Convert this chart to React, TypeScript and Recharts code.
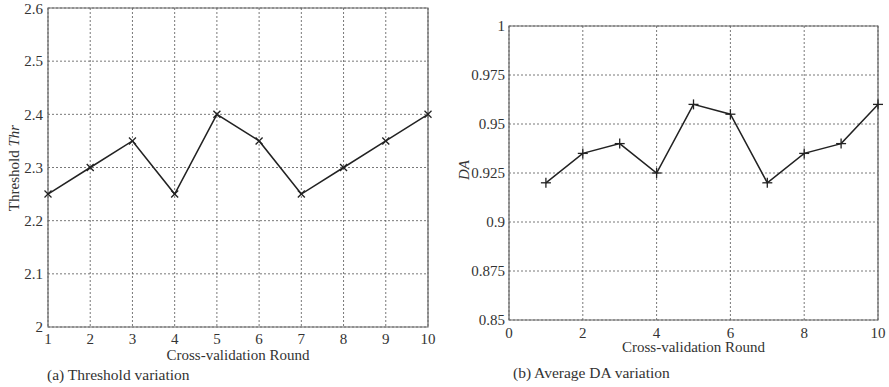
import { LineChart, Line, XAxis, YAxis, CartesianGrid, ReferenceArea, Label } from 'recharts'

// cross-validation rounds 1..10
const rounds = [1, 2, 3, 4, 5, 6, 7, 8, 9, 10]
const thresholdValues = [2.25, 2.3, 2.35, 2.25, 2.4, 2.35, 2.25, 2.3, 2.35, 2.4]
const daValues = [0.92, 0.935, 0.94, 0.925, 0.96, 0.955, 0.92, 0.935, 0.94, 0.96]

const thrXTicks = [1, 2, 3, 4, 5, 6, 7, 8, 9, 10]
const thrYTicks = [2, 2.1, 2.2, 2.3, 2.4, 2.5, 2.6]
const daXTicks = [0, 2, 4, 6, 8, 10]
const daYTicks = [0.85, 0.875, 0.9, 0.925, 0.95, 0.975, 1]

const thrData = rounds.map((r, i) => ({ round: r, thr: thresholdValues[i] }))
const daData = rounds.map((r, i) => ({ round: r, da: daValues[i] }))

const FONT = '"Liberation Serif", "DejaVu Serif", serif'
const TEXT = '#333'
const LINE = '#222'
const tickStyle = { fill: TEXT, fontSize: 15, fontFamily: FONT }

const XMark = (props: any) => {
  const { cx, cy } = props
  const s = 3.5
  return (
    <g key={props.key ?? `${cx}-${cy}`}>
      <line x1={cx - s} y1={cy - s} x2={cx + s} y2={cy + s} stroke={LINE} strokeWidth={1.3} />
      <line x1={cx - s} y1={cy + s} x2={cx + s} y2={cy - s} stroke={LINE} strokeWidth={1.3} />
    </g>
  )
}

const PlusMark = (props: any) => {
  const { cx, cy } = props
  const s = 5
  return (
    <g key={props.key ?? `${cx}-${cy}`}>
      <line x1={cx - s} y1={cy} x2={cx + s} y2={cy} stroke={LINE} strokeWidth={1.3} />
      <line x1={cx} y1={cy - s} x2={cx} y2={cy + s} stroke={LINE} strokeWidth={1.3} />
    </g>
  )
}

const xTitle = (dy: number) => ({ viewBox }: any) => (
  <text
    x={viewBox.x + viewBox.width / 2}
    y={viewBox.y + dy}
    textAnchor="middle"
    fill={TEXT}
    fontSize={15}
    fontFamily={FONT}
  >
    Cross-validation Round
  </text>
)

export default function App() {
  return (
    <div style={{ position: 'absolute', left: 0, top: 0, width: 889, height: 387, background: '#fff' }}>
      <div style={{ position: 'absolute', left: 0, top: 0 }}>
        <LineChart width={440} height={387} data={thrData} margin={{ top: 8, right: 12, left: 0, bottom: 0 }}>
          <CartesianGrid stroke="#555" strokeDasharray="2 2" strokeWidth={0.8} />
          <XAxis
            dataKey="round"
            type="number"
            domain={[1, 10]}
            ticks={thrXTicks}
            height={60}
            axisLine={false}
            tickLine={false}
            tickSize={4}
            tickMargin={2}
            tick={tickStyle}
          >
            <Label content={xTitle(33)} />
          </XAxis>
          <YAxis
            type="number"
            domain={[2, 2.6]}
            ticks={thrYTicks}
            width={48}
            axisLine={false}
            tickLine={false}
            tickSize={3}
            tickMargin={2}
            tick={tickStyle}
          >
            <Label
              content={() => (
                <text
                  x={14}
                  y={168}
                  transform="rotate(-90, 14, 168)"
                  textAnchor="middle"
                  dominantBaseline="central"
                  fill={TEXT}
                  fontSize={15}
                  fontFamily={FONT}
                >
                  Threshold <tspan fontStyle="italic">Thr</tspan>
                </text>
              )}
            />
          </YAxis>
          <ReferenceArea x1={1} x2={10} y1={2} y2={2.6} fill="none" stroke="#666" strokeWidth={1.2} />
          <Line
            dataKey="thr"
            stroke={LINE}
            strokeWidth={1.5}
            dot={XMark}
            activeDot={false}
            isAnimationActive={false}
          />
        </LineChart>
        <div style={{ position: 'absolute', left: 47, top: 366, fontFamily: FONT, fontSize: 15.5, lineHeight: '17px', color: TEXT }}>
          (a) Threshold variation
        </div>
      </div>

      <div style={{ position: 'absolute', left: 450, top: 0 }}>
        <LineChart width={439} height={387} data={daData} margin={{ top: 26, right: 11, left: 0, bottom: 0 }}>
          <CartesianGrid stroke="#555" strokeDasharray="2 2" strokeWidth={0.8} />
          <XAxis
            dataKey="round"
            type="number"
            domain={[0, 10]}
            ticks={daXTicks}
            height={67}
            axisLine={false}
            tickLine={false}
            tickSize={5}
            tickMargin={2}
            tick={tickStyle}
          >
            <Label content={xTitle(32)} />
          </XAxis>
          <YAxis
            type="number"
            domain={[0.85, 1]}
            ticks={daYTicks}
            width={59}
            axisLine={false}
            tickLine={false}
            tickSize={2}
            tickMargin={2}
            tick={tickStyle}
          >
            <Label
              content={() => (
                <text
                  x={14}
                  y={170}
                  transform="rotate(-90, 14, 170)"
                  textAnchor="middle"
                  dominantBaseline="central"
                  fill={TEXT}
                  fontSize={15}
                  fontFamily={FONT}
                  fontStyle="italic"
                >
                  DA
                </text>
              )}
            />
          </YAxis>
          <ReferenceArea x1={0} x2={10} y1={0.85} y2={1} fill="none" stroke="#666" strokeWidth={1.2} />
          <Line
            dataKey="da"
            stroke={LINE}
            strokeWidth={1.5}
            dot={PlusMark}
            activeDot={false}
            isAnimationActive={false}
          />
        </LineChart>
        <div style={{ position: 'absolute', left: 63, top: 364, fontFamily: FONT, fontSize: 15.5, lineHeight: '17px', color: TEXT }}>
          (b) Average DA variation
        </div>
      </div>
    </div>
  )
}
